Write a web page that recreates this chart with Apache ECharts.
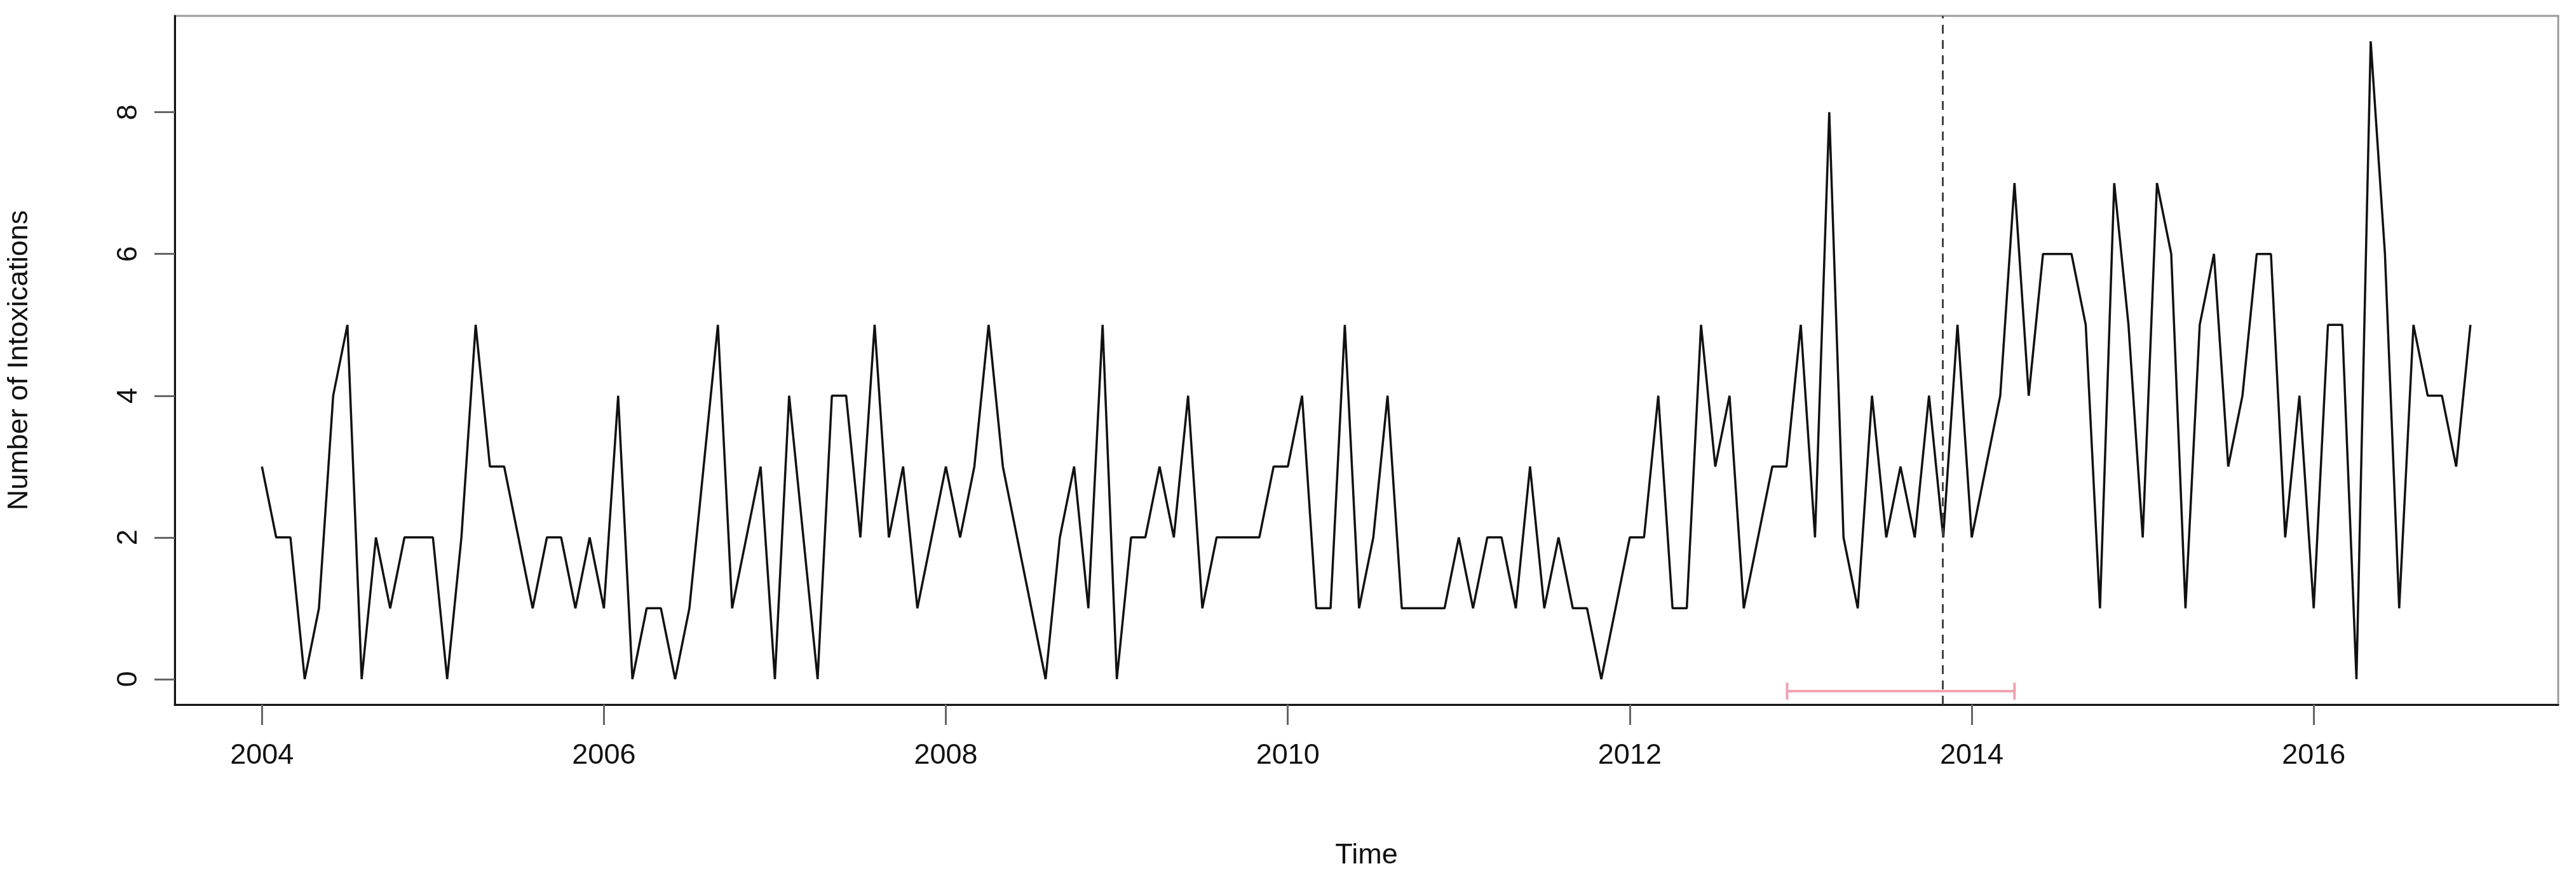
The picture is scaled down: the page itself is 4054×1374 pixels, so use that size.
<!DOCTYPE html>
<html><head><meta charset="utf-8">
<script src="https://cdn.jsdelivr.net/npm/echarts@6/dist/echarts.min.js"></script>
<style>html,body{margin:0;padding:0;background:#fff}#c{width:4054px;height:1374px}</style>
</head><body><div id="c"></div>
<script>
const startYear = 2004;
const values = [
 3,2,2,0,1,4,5,0,2,1,2,2,
 2,0,2,5,3,3,2,1,2,2,1,2,
 1,4,0,1,1,0,1,3,5,1,2,3,
 0,4,2,0,4,4,2,5,2,3,1,2,
 3,2,3,5,3,2,1,0,2,3,1,5,
 0,2,2,3,2,4,1,2,2,2,2,3,
 3,4,1,1,5,1,2,4,1,1,1,1,
 2,1,2,2,1,3,1,2,1,1,0,1,
 2,2,4,1,1,5,3,4,1,2,3,3,
 5,2,8,2,1,4,2,3,2,4,2,5,
 2,3,4,7,4,6,6,6,5,1,7,5,
 2,7,6,1,5,6,3,4,6,6,2,4,
 1,5,5,0,9,6,1,5,4,4,3,5
];
const xTicks = [2004,2006,2008,2010,2012,2014,2016];
const yTicks = [0,2,4,6,8];
const breakPoint = 2013.83;
const ciLow = 2012.92, ciHigh = 2014.25, ciY = -0.17;

const seriesData = values.map((v,i)=>[startYear + i/12, v]);
const chart = echarts.init(document.getElementById('c'));
const font = 'Liberation Sans, Arial, sans-serif';
chart.setOption({
  animation:false,
  grid:{left:270,right:28,top:25,bottom:246,show:true,borderColor:'#9a9a9a',borderWidth:3},
  xAxis:{type:'value',min:2003.49,max:2017.43,
    name:'Time',nameLocation:'middle',nameGap:215,
    nameTextStyle:{fontSize:45,color:'#111',fontFamily:font},
    axisLine:{show:true,onZero:false,lineStyle:{color:'#111',width:3}},
    axisTick:{show:true,length:32,customValues:xTicks,lineStyle:{color:'#666',width:3}},
    axisLabel:{customValues:xTicks,fontSize:45,color:'#111',margin:58,fontFamily:font,formatter:v=>String(v)},
    splitLine:{show:false}},
  yAxis:{type:'value',min:-0.36,max:9.36,
    name:'Number of Intoxications',nameLocation:'middle',nameGap:222,
    nameTextStyle:{fontSize:45,color:'#111',fontFamily:font},
    axisLine:{show:true,onZero:false,lineStyle:{color:'#111',width:3}},
    axisTick:{show:true,length:32,customValues:yTicks,lineStyle:{color:'#666',width:3}},
    axisLabel:{customValues:yTicks,rotate:90,fontSize:45,color:'#111',margin:50,fontFamily:font},
    splitLine:{show:false}},
  series:[
    {type:'line',data:seriesData,symbol:'none',lineStyle:{color:'#111',width:3.5},
     markLine:{silent:true,symbol:'none',label:{show:false},
       lineStyle:{color:'#444',type:[14,10],width:3},data:[{xAxis:breakPoint}]}},
    {type:'line',data:[[ciLow,ciY],[ciHigh,ciY]],symbol:'none',lineStyle:{color:'#f0a0b0',width:4}},
    {type:'line',data:[[ciLow,ciY-0.12],[ciLow,ciY+0.12]],symbol:'none',lineStyle:{color:'#f0a0b0',width:4}},
    {type:'line',data:[[ciHigh,ciY-0.12],[ciHigh,ciY+0.12]],symbol:'none',lineStyle:{color:'#f0a0b0',width:4}}
  ]
});
</script></body></html>
